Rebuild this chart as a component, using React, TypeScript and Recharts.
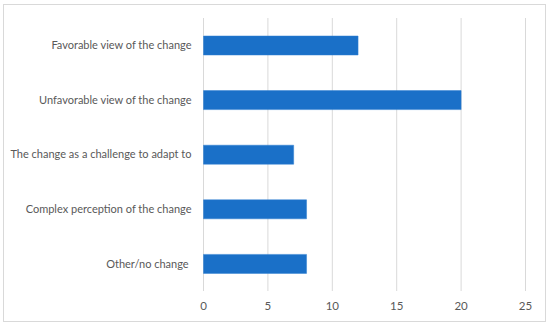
import { BarChart, Bar, XAxis, YAxis, CartesianGrid } from 'recharts';

const categories = [
  'Favorable view of the change',
  'Unfavorable view of the change',
  'The change as a challenge to adapt to',
  'Complex perception of the change',
  'Other/no change '
];
const counts = [12, 20, 7, 8, 8];
const xTicks = [0, 5, 10, 15, 20, 25];

const data = categories.map((name, i) => ({ name, value: counts[i] }));

const TEXT = '#595959';
const GRID = '#d9d9d9';
const FONT = 'Lato, sans-serif';

// single-line category label (recharts would wrap the long ones)
function CategoryTick(props: any) {
  const { x, y, payload } = props;
  return (
    <text
      x={x - 1}
      y={y}
      dy="0.35em"
      textAnchor="end"
      fill={TEXT}
      fontSize={11}
      fontFamily={FONT}
      style={{ whiteSpace: 'pre' }}
    >
      {payload.value}
    </text>
  );
}

export default function App() {
  return (
    <div style={{ position: 'absolute', left: 0, top: 0, width: 550, height: 325, background: '#fff' }}>
      <div
        style={{
          position: 'absolute',
          left: 3,
          top: 4,
          width: 541,
          height: 316,
          border: `1px solid ${GRID}`
        }}
      />
      <div style={{ position: 'absolute', left: 0, top: 0 }}>
        <BarChart
          width={550}
          height={325}
          data={data}
          layout="vertical"
          margin={{ top: 18, right: 24.5, bottom: 0, left: 0 }}
          style={{ fontFamily: FONT }}
        >
          <CartesianGrid horizontal={false} stroke={GRID} strokeWidth={1} />
          <XAxis
            type="number"
            domain={[0, 25]}
            ticks={xTicks}
            height={34}
            axisLine={false}
            tickLine={false}
            tickMargin={5}
            tick={{ fill: TEXT, fontSize: 11.5 }}
          />
          <YAxis
            type="category"
            dataKey="name"
            width={203.5}
            axisLine={false}
            tickLine={false}
            tickMargin={5}
            interval={0}
            tick={<CategoryTick />}
          />
          <Bar dataKey="value" fill="#1a70c8" stroke="#2e7fd0" strokeWidth={0.5} barSize={19} isAnimationActive={false} />
        </BarChart>
      </div>
    </div>
  );
}
